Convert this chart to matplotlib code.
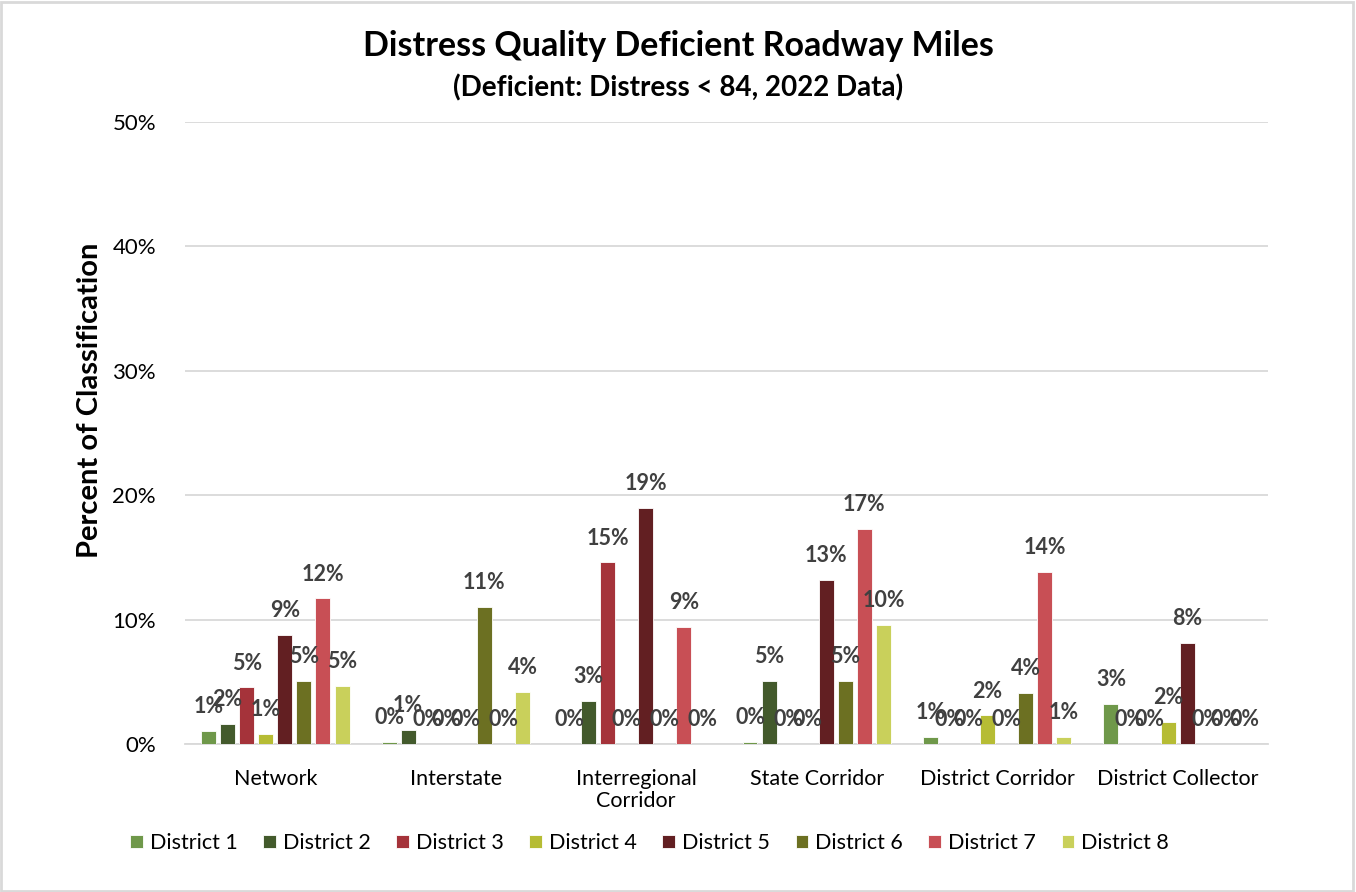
import matplotlib
matplotlib.use("Agg")
import matplotlib.pyplot as plt
import numpy as np
from matplotlib.patches import Rectangle

plt.rcParams['font.family'] = ['Lato', 'DejaVu Sans']

categories = ['Network', 'Interstate', 'Interregional\nCorridor', 'State Corridor',
              'District Corridor', 'District Collector']
districts = ['District 1', 'District 2', 'District 3', 'District 4',
             'District 5', 'District 6', 'District 7', 'District 8']
colors = ['#6f984a', '#435a2c', '#a5333a', '#b6bc34',
          '#621f22', '#6c7022', '#c84f55', '#c9d05b']

# percent of classification, one list per district (in category order)
district_1 = [1.05, 0.2, 0.0, 0.2, 0.55, 3.2]
district_2 = [1.6, 1.1, 3.45, 5.1, 0.0, 0.0]
district_3 = [4.55, 0.0, 14.6, 0.0, 0.0, 0.0]
district_4 = [0.8, 0.0, 0.0, 0.0, 2.3, 1.8]
district_5 = [8.8, 0.0, 19.0, 13.2, 0.0, 8.1]
district_6 = [5.1, 11.0, 0.0, 5.1, 4.1, 0.0]
district_7 = [11.7, 0.0, 9.4, 17.3, 13.8, 0.0]
district_8 = [4.7, 4.2, 0.0, 9.6, 0.6, 0.0]
series = [district_1, district_2, district_3, district_4,
          district_5, district_6, district_7, district_8]

fig = plt.figure(figsize=(13.56, 8.92), dpi=100)
fig.patches.append(Rectangle((0.001, 0.001), 0.997, 0.997, transform=fig.transFigure,
                             fill=False, edgecolor='#d9d9d9', linewidth=2))
ax = fig.add_axes([0.1365, 0.1659, 0.7985, 0.6973])

x = np.arange(len(categories))
pitch = 0.1056
width = 0.083
for i, (name, vals, c) in enumerate(zip(districts, series, colors)):
    pos = x + (i - 3.5) * pitch
    ax.bar(pos, vals, width, color=c, edgecolor='white', linewidth=0.6, label=name, zorder=3)
    for px, v in zip(pos, vals):
        ax.annotate(f"{v:.0f}%", (px, v), xytext=(0, 10), textcoords='offset points',
                    ha='center', va='bottom', fontsize=15.5, fontweight='bold',
                    color='#404040', zorder=4)

ax.set_xlim(-0.5, len(categories) - 0.5)
ax.set_ylim(0, 50)
ax.set_yticks([0, 10, 20, 30, 40, 50])
ax.set_yticklabels([f"{t}%" for t in [0, 10, 20, 30, 40, 50]], fontsize=16)
ax.set_xticks(x)
ax.set_xticklabels(categories, fontsize=15.5, linespacing=1.1)
ax.tick_params(axis='both', length=0, colors='black')
ax.tick_params(axis='y', pad=21)
ax.tick_params(axis='x', pad=18)
ax.grid(axis='y', color='#d9d9d9', linewidth=1.3, zorder=0)
for s in ['top', 'right', 'left']:
    ax.spines[s].set_visible(False)
ax.spines['bottom'].set_color('#d9d9d9')
ax.spines['bottom'].set_linewidth(1.3)

ax.set_ylabel('Percent of Classification', fontsize=21, fontweight='bold')
ax.yaxis.set_label_coords(-0.076, 0.553)

fig.text(0.5, 0.948, 'Distress Quality Deficient Roadway Miles', ha='center', va='center',
         fontsize=24.5, fontweight='bold')
fig.text(0.5, 0.902, '(Deficient: Distress < 84, 2022 Data)', ha='center', va='center',
         fontsize=20, fontweight='bold')

fig.legend(loc='center', bbox_to_anchor=(0.479, 0.055), ncol=8, frameon=False,
           fontsize=15.5, handlelength=0.6, handleheight=0.6, handletextpad=0.3,
           columnspacing=1.2)

fig.savefig('out.png', dpi=100)
